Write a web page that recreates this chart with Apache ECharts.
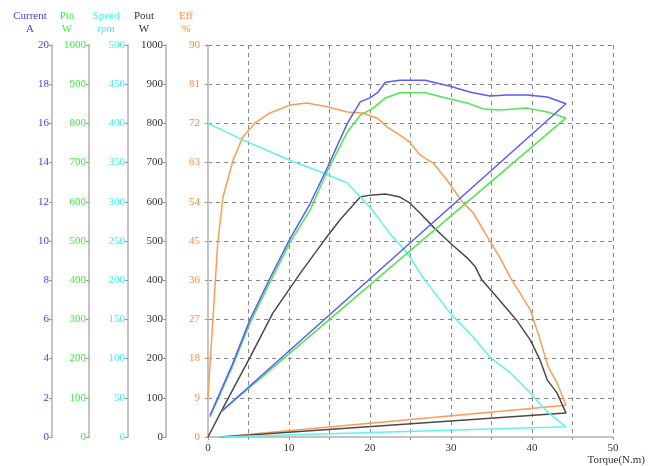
<!DOCTYPE html>
<html>
<head>
<meta charset="utf-8">
<script src="https://cdn.jsdelivr.net/npm/echarts@6/dist/echarts.min.js"></script>
<style>
  html, body { margin: 0; padding: 0; background: #fff; }
  #chart { width: 655px; height: 466px; }
</style>
</head>
<body>
<div id="chart"></div>
<script>
// [torque N.m, value] - traced out and back, so order matters
var currentData = [[0.25, 1.1], [3.0, 3.7], [5.2, 6.0], [7.65, 8.1], [10.1, 10.1], [12.6, 11.9], [14.8, 13.8],
    [17.2, 16.0], [18.8, 17.1], [20.0, 17.3], [21.0, 17.6], [21.9, 18.1], [23.7, 18.2], [26.8, 18.2],
    [29.9, 17.9], [32.3, 17.6], [34.8, 17.4], [36.9, 17.45], [39.4, 17.45], [41.9, 17.35], [44.2, 17.0], [1.6, 1.29]];
var pinData = [[0.25, 51], [3.0, 179], [5.2, 291], [7.65, 395], [10.1, 495], [12.6, 579], [14.8, 681],
    [17.2, 778], [18.8, 821], [20.4, 839], [21.9, 865], [23.7, 878], [26.8, 878], [29.9, 862],
    [32.0, 852], [34.0, 837], [36.1, 834], [39.4, 839], [41.9, 829], [44.2, 814], [1.6, 64]];
var speedData = [[0, 400], [4.3, 379], [10.1, 353], [14.2, 337], [17.2, 324], [18.8, 306], [20.0, 293],
    [21.2, 277], [22.8, 255], [24.6, 235], [26.5, 204], [29.9, 158], [32.7, 128], [34.8, 102],
    [37.3, 82], [39.8, 56], [41.9, 32], [44.2, 13], [1.5, 0]];
var poutData = [[0, 0], [1.6, 64], [5.2, 204], [8.0, 316], [11.4, 418], [14.4, 503], [16.3, 554],
    [18.8, 612], [20.0, 617], [21.9, 620], [23.7, 612], [24.9, 597], [26.2, 571], [27.8, 536],
    [29.9, 495], [32.0, 457], [33.0, 434], [33.8, 401], [36.0, 349], [38.1, 298], [39.8, 247],
    [41.0, 196], [41.9, 145], [43.1, 112], [44.2, 61], [1.5, 0]];
var effData = [[0, 9.2], [0.6, 26.9], [1.2, 44.5], [1.85, 55.1], [3.1, 63.6], [4.3, 68.9], [5.8, 72.1],
    [7.65, 74.4], [10.1, 76.2], [12.2, 76.7], [14.7, 75.8], [17.2, 74.6], [19.1, 74.4], [20.9, 73.2],
    [22.1, 71.2], [23.7, 69.3], [24.9, 67.7], [26.2, 64.7], [27.8, 62.9], [29.5, 59.0], [31.5, 53.7],
    [32.7, 51.6], [34.0, 47.5], [36.0, 41.3], [37.3, 36.7], [39.8, 29.2], [41.0, 22.3], [42.0, 16.1],
    [43.1, 12.4], [44.2, 7.3], [1.5, 0]];

var FONT = '"Liberation Serif", "DejaVu Serif", serif';

// one left-hand y axis per quantity
function yAxisOf(name, max, interval, color, offset, margin, split) {
    return {
        type: 'value',
        position: 'left',
        offset: offset,
        min: 0,
        max: max,
        interval: interval,
        name: name,
        nameLocation: 'end',
        nameGap: 9,
        nameTextStyle: {
            color: color, fontFamily: FONT, fontSize: 11, lineHeight: 13,
            align: 'center', padding: [0, 44, 0, 0]
        },
        axisLine: { show: true, lineStyle: { color: '#c4c4c4', width: 2 } },
        axisTick: { show: true, length: 3, lineStyle: { color: '#999' } },
        axisLabel: {
            color: color, fontFamily: FONT, fontSize: 11, margin: margin,
            formatter: function (v) { return String(v); }
        },
        splitLine: { show: !!split, lineStyle: { color: '#888', type: [4, 4], width: 1 } }
    };
}

var chart = echarts.init(document.getElementById('chart'));

var option = {
    animation: false,
    backgroundColor: '#fff',
    grid: { left: 208, right: 42, top: 45, bottom: 29 },
    xAxis: {
        type: 'value',
        min: 0,
        max: 50,
        interval: 5,
        name: 'Torque(N.m)',
        nameLocation: 'end',
        nameGap: 32,
        nameTextStyle: { color: '#333', fontFamily: FONT, fontSize: 11, align: 'right', verticalAlign: 'top', padding: [18, 0, 0, 0] },
        axisLine: { lineStyle: { color: '#c4c4c4', width: 2 } },
        axisTick: { show: true, length: 3, lineStyle: { color: '#999' } },
        axisLabel: {
            color: '#333', fontFamily: FONT, fontSize: 11, margin: 6,
            formatter: function (v) { return v % 10 === 0 ? String(v) : ''; }
        },
        splitLine: { show: true, lineStyle: { color: '#888', type: [4, 4], width: 1 } }
    },
    yAxis: [
        yAxisOf('Eff\n%', 90, 9, '#ff8c40', 0, 8, true),
        yAxisOf('Pout\nW', 1000, 100, '#333333', 42, 3),
        yAxisOf('Speed\nrpm', 500, 50, '#3cf5f5', 80, 3),
        yAxisOf('Pin\nW', 1000, 100, '#3cf03c', 119, 3),
        yAxisOf('Current\nA', 20, 2, '#4040ff', 156, 3)
    ],
    series: [
        { name: 'Eff', type: 'line', yAxisIndex: 0, data: effData, color: '#ff9a55' },
        { name: 'Pout', type: 'line', yAxisIndex: 1, data: poutData, color: '#4a4a4a' },
        { name: 'Speed', type: 'line', yAxisIndex: 2, data: speedData, color: '#5ef2f2' },
        { name: 'Pin', type: 'line', yAxisIndex: 3, data: pinData, color: '#4fe64f' },
        { name: 'Current', type: 'line', yAxisIndex: 4, data: currentData, color: '#5a5aff' }
    ]
};

option.series.forEach(function (s) {
    s.showSymbol = false;
    s.symbol = 'none';
    s.lineStyle = { width: 1.5 };
});

chart.setOption(option);
</script>
</body>
</html>
